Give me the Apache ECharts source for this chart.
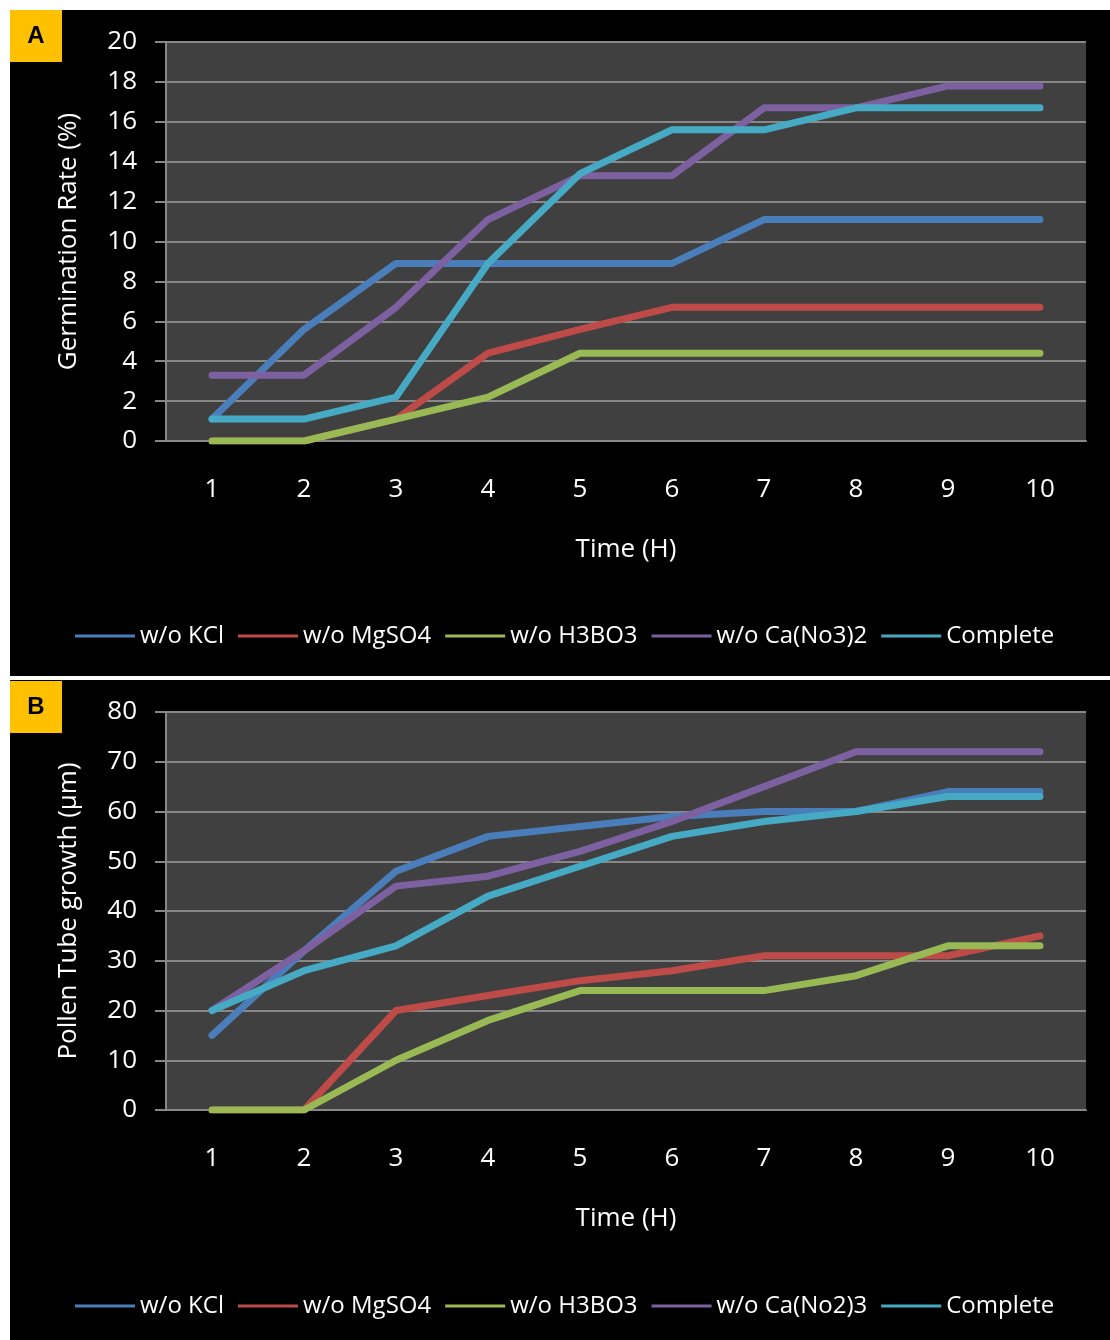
<!DOCTYPE html>
<html>
<head>
<meta charset="utf-8">
<script src="https://cdn.jsdelivr.net/npm/echarts@6/dist/echarts.min.js"></script>
<style>
html,body{margin:0;padding:0;background:#ffffff;}
#chart{width:1110px;height:1340px;}
</style>
</head>
<body>
<div id="chart"></div>
<script>
// ---- data ----
var hours = ['1','2','3','4','5','6','7','8','9','10'];
var namesA = ['w/o KCl','w/o MgSO4','w/o H3BO3','w/o Ca(No3)2','Complete'];
var namesB = ['w/o KCl','w/o MgSO4','w/o H3BO3','w/o Ca(No2)3','Complete'];
// Panel A: Germination Rate (%)
var germKCl   = [1.1, 5.6, 8.9, 8.9, 8.9, 8.9, 11.1, 11.1, 11.1, 11.1];
var germMgSO4 = [0, 0, 1.1, 4.4, 5.6, 6.7, 6.7, 6.7, 6.7, 6.7];
var germH3BO3 = [0, 0, 1.1, 2.2, 4.4, 4.4, 4.4, 4.4, 4.4, 4.4];
var germCa    = [3.3, 3.3, 6.7, 11.1, 13.3, 13.3, 16.7, 16.7, 17.8, 17.8];
var germComp  = [1.1, 1.1, 2.2, 8.9, 13.4, 15.6, 15.6, 16.7, 16.7, 16.7];
// Panel B: Pollen Tube growth (µm)
var tubeKCl   = [15, 32, 48, 55, 57, 59, 60, 60, 64, 64];
var tubeMgSO4 = [0, 0, 20, 23, 26, 28, 31, 31, 31, 35];
var tubeH3BO3 = [0, 0, 10, 18, 24, 24, 24, 27, 33, 33];
var tubeCa    = [20, 32, 45, 47, 52, 58, 65, 72, 72, 72];
var tubeComp  = [20, 28, 33, 43, 49, 55, 58, 60, 63, 63];

var colors = ['#4a7ebb', '#be4b48', '#98b954', '#7d60a0', '#46aac5'];
var FONT = 'Open Sans';
var TXT = '#ffffff';
var GRIDC = '#888888';

var chart = echarts.init(document.getElementById('chart'), null, {renderer: 'canvas'});

function xAxisDef(gi) {
  return {
    type: 'category', gridIndex: gi, data: hours, boundaryGap: true,
    axisLine: {show: true, lineStyle: {color: GRIDC, width: 2}},
    axisTick: {show: false},
    axisLabel: {color: TXT, fontFamily: FONT, fontSize: 26, margin: 36},
    name: 'Time (H)', nameLocation: 'middle', nameGap: 96,
    nameTextStyle: {color: TXT, fontFamily: FONT, fontSize: 26}
  };
}
function yAxisDef(gi, max, interval, name) {
  return {
    type: 'value', gridIndex: gi, min: 0, max: max, interval: interval,
    axisLine: {show: true, lineStyle: {color: GRIDC, width: 2}},
    axisTick: {show: true, length: 11, lineStyle: {color: GRIDC, width: 2}},
    splitLine: {show: true, lineStyle: {color: GRIDC, width: 2}},
    axisLabel: {color: TXT, fontFamily: FONT, fontSize: 26, margin: 29},
    name: name, nameLocation: 'middle', nameGap: 84,
    nameTextStyle: {color: TXT, fontFamily: FONT, fontSize: 26}
  };
}
function lineSeries(name, data, ci, gi) {
  return {
    type: 'line', name: name, data: data, xAxisIndex: gi, yAxisIndex: gi,
    showSymbol: false, symbol: 'none',
    lineStyle: {color: colors[ci], width: 7, cap: 'round', join: 'round'},
    itemStyle: {color: colors[ci]},
    z: 2 + ci
  };
}
function legendDef(names, top) {
  return {
    data: names, top: top, left: 70,
    icon: 'rect', itemWidth: 60, itemHeight: 3, itemGap: 14,
    textStyle: {color: TXT, fontFamily: FONT, fontSize: 24, padding: [0, 0, 0, 0]}
  };
}
function labelBox(letter, y) {
  return {
    type: 'group', left: 10, top: y, z: 100,
    children: [
      {type: 'rect', shape: {x: 0, y: 0, width: 52, height: 52}, style: {fill: '#ffc000'}},
      {type: 'text', x: 26, y: 26, style: {text: letter, fill: '#000', font: 'bold 24px Liberation Sans', textAlign: 'center', textVerticalAlign: 'middle'}}
    ]
  };
}

chart.setOption({
  animation: false,
  backgroundColor: '#ffffff',
  graphic: [
    {type: 'rect', left: 10, top: 10, z: -10, shape: {width: 1100, height: 666}, style: {fill: '#000000'}},
    {type: 'rect', left: 10, top: 680, z: -10, shape: {width: 1100, height: 660}, style: {fill: '#000000'}},
    labelBox('A', 10),
    labelBox('B', 681)
  ],
  grid: [
    {left: 166, top: 42, width: 920, height: 399, show: true, backgroundColor: '#404040', borderWidth: 0},
    {left: 166, top: 712, width: 920, height: 398, show: true, backgroundColor: '#404040', borderWidth: 0}
  ],
  xAxis: [xAxisDef(0), xAxisDef(1)],
  yAxis: [
    yAxisDef(0, 20, 2, 'Germination Rate (%)'),
    yAxisDef(1, 80, 10, 'Pollen Tube growth (\u00b5m)')
  ],
  legend: [legendDef(namesA, 619), legendDef(namesB, 1289)],
  series: [
    lineSeries(namesA[0], germKCl, 0, 0),
    lineSeries(namesA[1], germMgSO4, 1, 0),
    lineSeries(namesA[2], germH3BO3, 2, 0),
    lineSeries(namesA[3], germCa, 3, 0),
    lineSeries(namesA[4], germComp, 4, 0),
    lineSeries(namesB[0], tubeKCl, 0, 1),
    lineSeries(namesB[1], tubeMgSO4, 1, 1),
    lineSeries(namesB[2], tubeH3BO3, 2, 1),
    lineSeries(namesB[3], tubeCa, 3, 1),
    lineSeries(namesB[4], tubeComp, 4, 1)
  ]
});
</script>
</body>
</html>
